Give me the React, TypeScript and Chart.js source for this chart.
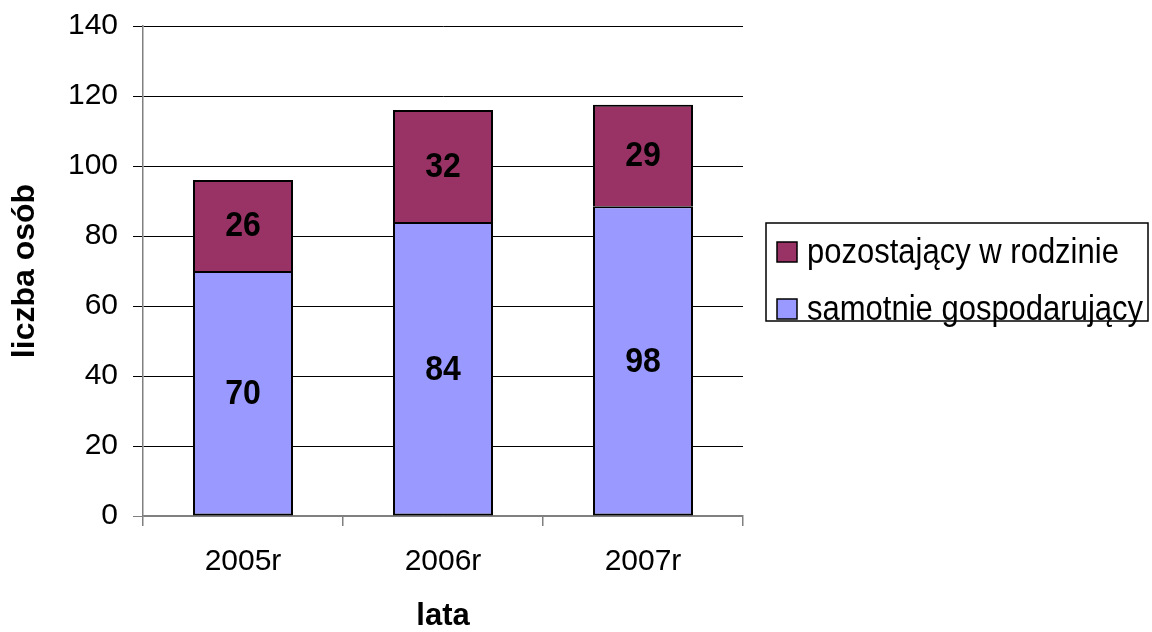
import React, { useEffect, useRef } from "react";
import { Chart, registerables } from "chart.js";

Chart.register(...registerables);

const categories = ["2005r", "2006r", "2007r"];
const samotnieValues = [70, 84, 88.5];
const samotnieLabels = ["70", "84", "98"];
const pozostajacyValues = [26, 32, 29];
const pozostajacyLabels = ["26", "32", "29"];
const yTicks = [0, 20, 40, 60, 80, 100, 120, 140];

const FONT = "'Liberation Sans', Arial, sans-serif";
const MAROON = "#993366";
const PERIWINKLE = "#9999FF";

export default function App() {
  const ref = useRef<HTMLCanvasElement | null>(null);

  useEffect(() => {
    document.body.style.margin = "0";
    const canvas = ref.current;
    if (!canvas) return;

    const labelsPlugin = {
      id: "segmentLabels",
      afterDatasetsDraw(chart: any) {
        const ctx = chart.ctx;
        ctx.save();
        ctx.font = `bold 32px ${FONT}`;
        ctx.fillStyle = "#000";
        ctx.textAlign = "center";
        ctx.textBaseline = "middle";
        chart.data.datasets.forEach((ds: any, di: number) => {
          const meta = chart.getDatasetMeta(di);
          meta.data.forEach((el: any, i: number) => {
            const y = (el.y + el.base) / 2;
            ctx.save();
            ctx.translate(el.x, y + 1);
            ctx.scale(1, 1.12);
            ctx.fillText(ds.segmentText[i], 0, 0);
            ctx.restore();
          });
        });
        ctx.restore();
      },
    };

    const legendPlugin = {
      id: "boxLegend",
      afterDraw(chart: any) {
        const ctx = chart.ctx;
        const left = chart.chartArea.right + 23;
        const top = 223;
        const width = 382;
        const height = 98;
        ctx.save();
        ctx.strokeStyle = "#000";
        ctx.lineWidth = 1.5;
        ctx.strokeRect(left, top, width, height);
        const items = [...chart.data.datasets].reverse();
        ctx.font = `31px ${FONT}`;
        ctx.textBaseline = "middle";
        ctx.textAlign = "left";
        items.forEach((ds: any, i: number) => {
          const cy = top + 29 + i * 57;
          ctx.fillStyle = ds.backgroundColor;
          ctx.fillRect(left + 11, cy - 10, 20, 20);
          ctx.strokeStyle = "#000";
          ctx.lineWidth = 1.5;
          ctx.strokeRect(left + 11, cy - 10, 20, 20);
          ctx.fillStyle = "#000";
          ctx.save();
          ctx.translate(left + 41, cy + 1);
          ctx.scale(1, 1.12);
          ctx.fillText(ds.label, 0, 0);
          ctx.restore();
        });
        ctx.restore();
      },
    };

    const chart = new Chart(canvas, {
      type: "bar",
      data: {
        labels: categories,
        datasets: [
          {
            label: "samotnie gospodarujący",
            data: samotnieValues,
            backgroundColor: PERIWINKLE,
            borderColor: "#000",
            borderWidth: 2,
            borderSkipped: false,
            segmentText: samotnieLabels,
          } as any,
          {
            label: "pozostający w rodzinie",
            data: pozostajacyValues,
            backgroundColor: MAROON,
            borderColor: "#000",
            borderWidth: 2,
            borderSkipped: "start",
            segmentText: pozostajacyLabels,
          } as any,
        ],
      },
      options: {
        responsive: false,
        animation: false,
        datasets: { bar: { barPercentage: 0.5, categoryPercentage: 1 } },
        layout: { padding: { top: 26, right: 409, bottom: 0, left: 0 } },
        plugins: {
          legend: { display: false },
          tooltip: { enabled: false },
        },
        scales: {
          x: {
            stacked: true,
            afterFit(s: any) {
              s.height = 116;
            },
            grid: {
              display: true,
              drawOnChartArea: false,
              drawTicks: true,
              tickLength: 10,
              color: "#808080",
              lineWidth: 1.5,
            },
            border: { display: true, color: "#808080", width: 1.5 },
            ticks: {
              color: "#000",
              font: { family: FONT, size: 30 },
              padding: 18,
            },
            title: {
              display: true,
              text: "lata",
              color: "#000",
              font: { family: FONT, size: 31, weight: "bold", lineHeight: 1.0 },
              padding: { top: 0, bottom: 0 },
            },
          },
          y: {
            stacked: true,
            min: 0,
            max: 140,
            afterFit(s: any) {
              s.width = 143;
              s.paddingTop = 0;
              s.paddingBottom = 0;
            },
            afterBuildTicks(s: any) {
              s.ticks = yTicks.map((v) => ({ value: v }));
            },
            grid: {
              color: (c: any) => (c.tick && c.tick.value === 0 ? "#808080" : "#000"),
              lineWidth: 1,
              tickLength: 10,
            },
            border: { display: true, color: "#808080", width: 1.5 },
            ticks: {
              color: "#000",
              font: { family: FONT, size: 30, lineHeight: 0.7 },
              padding: 15,
            },
            title: {
              display: true,
              text: "liczba osób",
              color: "#000",
              font: { family: FONT, size: 32, weight: "bold" },
              padding: { top: 6, bottom: 0 },
            },
          },
        },
      },
      plugins: [labelsPlugin, legendPlugin],
    } as any);

    return () => chart.destroy();
  }, []);

  return (
    <div style={{ width: 1152, height: 632 }}>
      <canvas ref={ref} width={1152} height={632} style={{ display: "block", width: 1152, height: 632 }} />
    </div>
  );
}
